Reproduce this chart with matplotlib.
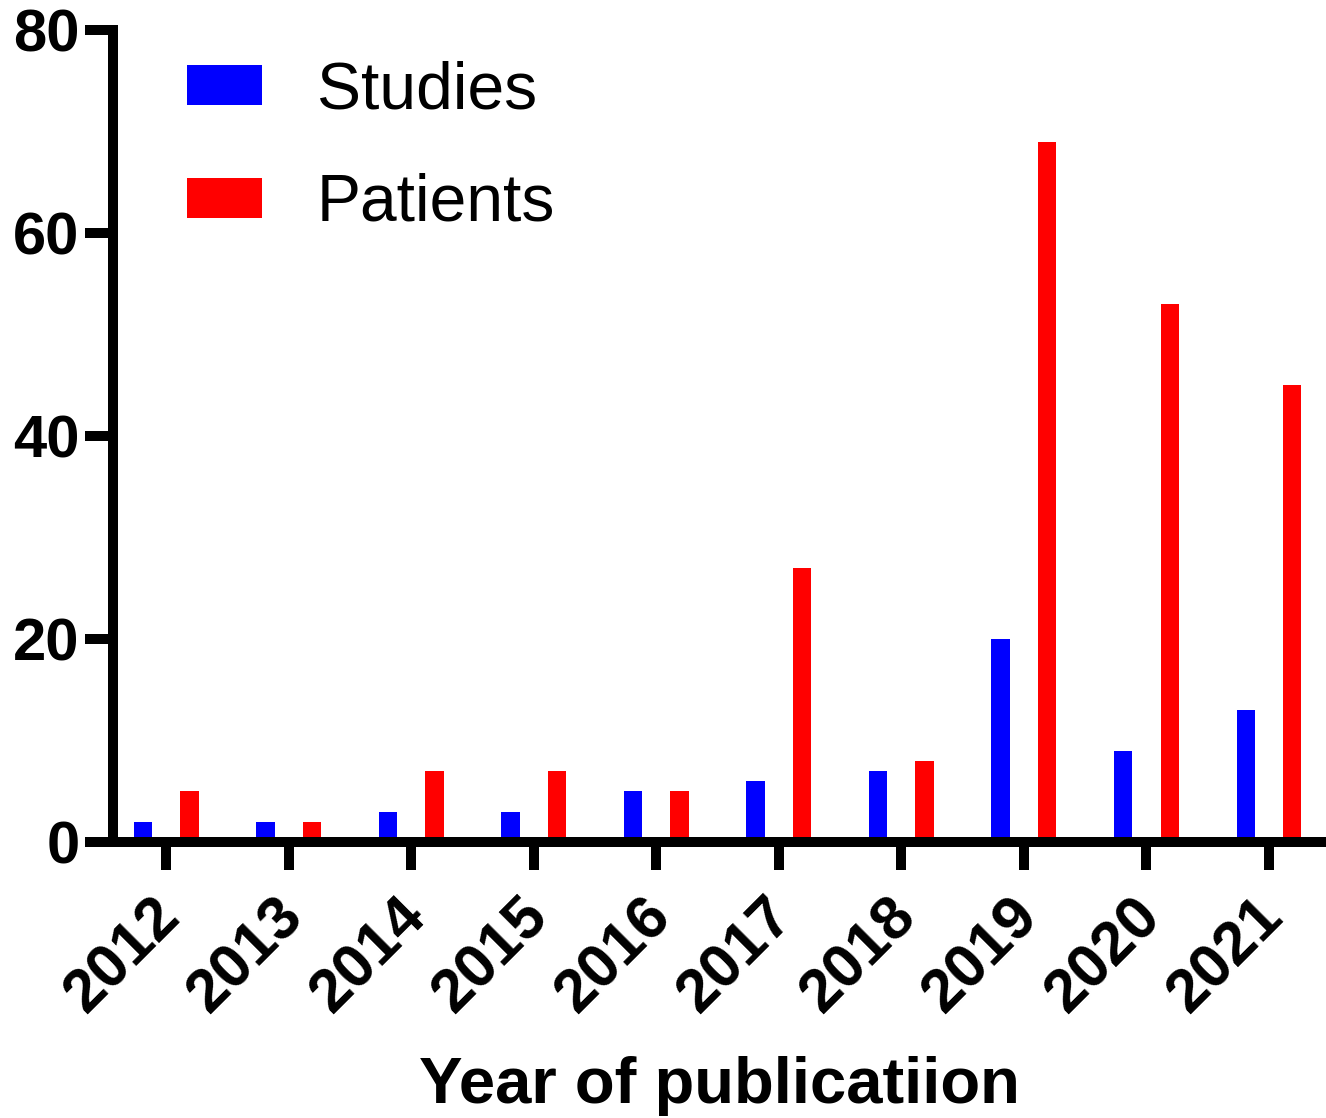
import matplotlib
matplotlib.use("Agg")
import matplotlib.pyplot as plt
import matplotlib.transforms as mtransforms
import numpy as np

years = ["2012", "2013", "2014", "2015", "2016", "2017", "2018", "2019", "2020", "2021"]
studies = [2, 2, 3, 3, 5, 6, 7, 20, 9, 13]
patients = [5, 2, 7, 7, 5, 27, 8, 69, 53, 45]
yticks = [0, 20, 40, 60, 80]

plt.rcParams['font.family'] = ['Liberation Sans', 'DejaVu Sans']

fig = plt.figure(figsize=(13.26, 11.18), dpi=100)
ax = fig.add_axes([113/1326, 1 - 842/1118, 1 - 113/1326, (842 - 30)/1118])

x = np.arange(len(years))
w = 0.15
ax.bar(x - 0.19, studies, w, color="#0000ff", label="Studies", zorder=2)
ax.bar(x + 0.19, patients, w, color="#ff0000", label="Patients", zorder=2)

ax.set_xlim(-0.433, 9.465)
ax.set_ylim(0, 80)
ax.set_yticks(yticks)
ax.set_xticks(x)
ax.set_xticklabels(years, rotation=45, ha="right", va="top", rotation_mode="anchor")

for s in ["top", "right"]:
    ax.spines[s].set_visible(False)
for s in ["left", "bottom"]:
    ax.spines[s].set_linewidth(7.2)
    ax.spines[s].set_capstyle("projecting")
    ax.spines[s].set_zorder(3)

ax.tick_params(axis="both", width=7.2, length=20, pad=4)
ax.tick_params(axis="y", labelsize=43)
ax.tick_params(axis="x", labelsize=44, pad=10)
offset = mtransforms.ScaledTranslation(-14/100, -4/100, fig.dpi_scale_trans)
for lbl in ax.get_xticklabels():
    lbl.set_fontweight("bold")
    lbl.set_transform(lbl.get_transform() + offset)
for lbl in ax.get_yticklabels():
    lbl.set_fontweight("bold")

ax.set_xlabel("Year of publicatiion", fontsize=47, fontweight="bold")
ax.xaxis.label.set_va("baseline")
ax.xaxis.set_label_coords(0.5, (842 - 1103) / 812)

leg = ax.legend(loc="upper left", bbox_to_anchor=(0.012, 1.036), frameon=False,
                fontsize=47.5, handlelength=1.14, handleheight=0.56,
                handletextpad=0.83, labelspacing=0.77)

fig.savefig("out.png", dpi=100)
